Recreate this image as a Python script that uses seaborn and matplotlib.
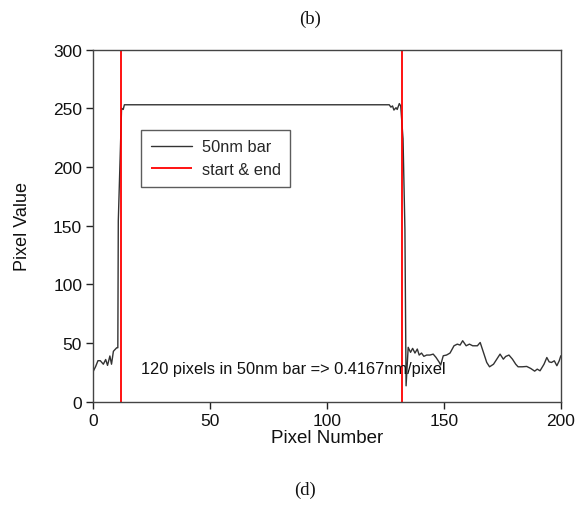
import numpy as np
import pandas as pd
import matplotlib
matplotlib.use("Agg")
import matplotlib.pyplot as plt
import seaborn as sns

# Intensity profile across the 50 nm scale bar
pixel_number = [
    0, 1, 2, 3, 4.3, 5.3, 6.1, 7.1, 7.8, 8.6, 10.0, 10.5, 10.7, 12.1, 12.8, 13.3, 14,
    125.5, 126.6, 127.3, 128.0, 128.6, 129.5, 130.0, 130.9, 131.5, 132.5, 133.3, 133.8,
    134.7, 135.7, 136.6, 137.6, 138.6, 139.4, 140.4, 141.4, 142.6, 144.0, 145.4, 146.6,
    148.0, 148.6, 149.7, 151.1, 152.6, 154.3, 155.7, 156.9, 158.0, 159.5, 160.9, 162.3,
    164.3, 165.5, 166.9, 168.3, 169.5, 171.2, 172.6, 174.0, 175.4, 176.4, 177.8, 179.3,
    180.7, 181.7, 183.5, 185.4, 187.1, 188.8, 189.9, 191.1, 192.8, 194.0, 195.0, 196.0,
    197.2, 198.3, 199.3, 200.0,
]
pixel_value = [
    26, 30, 35, 35, 32, 36, 31, 39, 32, 43, 46, 46, 154, 250, 249, 253, 253,
    253, 253, 251, 252, 248.5, 250.5, 249, 254, 252, 224, 147, 13.6,
    46.4, 42.1, 45.5, 41.5, 44.9, 39.8, 41.5, 38.7, 39.8, 39.8, 40.6, 37.8,
    33.6, 31.3, 39.2, 39.8, 41.5, 47.7, 49.1, 48.3, 52, 47.7, 49.1, 47.7,
    47.7, 50.5, 42, 33.5, 29.8, 32, 36.3, 40.6, 36.3, 38.6, 39.8, 36.3,
    32, 29.8, 29.8, 30.1, 28.4, 26.1, 27.8, 26.4, 32, 37.7, 34, 33.5,
    34.9, 30.7, 34.9, 39.2,
]

# Detected bar edges (pixels)
edges = [12, 132]

x_ticks = [0, 50, 100, 150, 200]
y_ticks = [0, 50, 100, 150, 200, 250, 300]

sns.set_theme(style="white")
plt.rcParams["font.family"] = ["Liberation Sans", "DejaVu Sans"]

fig = plt.figure(figsize=(5.83, 5.06), dpi=100)
ax = fig.add_axes([0.160, 0.204, 0.802, 0.696])

profile = pd.DataFrame({"Pixel Number": pixel_number, "Pixel Value": pixel_value})
sns.lineplot(data=profile, x="Pixel Number", y="Pixel Value", ax=ax,
             color="#333333", linewidth=1.0, label="50nm bar", sort=False)
ax.vlines(edges, 0, 300, colors="#ff0000", linewidth=1.3, label="start & end")

ax.set_xlim(0, 200)
ax.set_ylim(0, 300)
ax.set_xticks(x_ticks)
ax.set_yticks(y_ticks)
ax.tick_params(axis="both", which="major", direction="out", length=5, width=1,
               color="#222222", labelsize=12.5, pad=3, bottom=True, left=True,
               labelcolor="#111111")
for s in ax.spines.values():
    s.set_color("#444444")
    s.set_linewidth(1.0)

ax.set_xlabel("Pixel Number", fontsize=13.5, color="#111111", labelpad=1)
ax.set_ylabel("Pixel Value", fontsize=13, color="#111111", labelpad=16)

ax.text(20.3, 28.7, "120 pixels in 50nm bar => 0.4167nm/pixel",
        fontsize=11.8, color="#111111", va="center", ha="left")

leg = ax.legend(loc="upper left", bbox_to_anchor=(0.102, 0.773), borderaxespad=0,
                fontsize=11.8, frameon=True, fancybox=False, handlelength=2.5,
                handletextpad=0.6, borderpad=0.6, labelspacing=0.45)
leg.get_frame().set_edgecolor("#333333")
leg.get_frame().set_linewidth(1.0)

fig.text(0.532, 0.962, "(b)", family=["Liberation Serif", "DejaVu Serif"],
         fontsize=13.5, ha="center", va="center", color="#111111")
fig.text(0.523, 0.030, "(d)", family=["Liberation Serif", "DejaVu Serif"],
         fontsize=13.5, ha="center", va="center", color="#111111")

fig.savefig("out.png", dpi=100)
